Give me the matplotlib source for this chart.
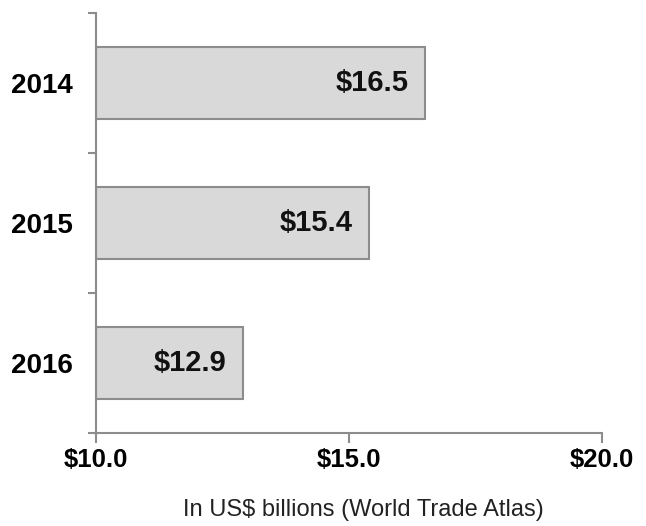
import matplotlib
matplotlib.use("Agg")
import matplotlib.pyplot as plt

# datos
anios = ["2014", "2015", "2016"]
valores = [16.5, 15.4, 12.9]
etiquetas = ["$16.5", "$15.4", "$12.9"]
xticks = [10, 15, 20]
xtick_labels = ["$10.0", "$15.0", "$20.0"]

plt.rcParams['font.family'] = ['Liberation Sans', 'DejaVu Sans']

gris = '#8c8c8c'

fig = plt.figure(figsize=(6.46, 5.26), dpi=100)
ax = fig.add_axes([96/646, 1 - 433/526, (602-96)/646, (433-13)/526])

pos = list(range(len(anios)))
ax.barh(pos, [v - 10 for v in valores], left=10, height=0.52,
        color='#d9d9d9', edgecolor=gris, linewidth=1.5)

for p, v, t in zip(pos, valores, etiquetas):
    ax.text(v - 0.32, p, t, ha='right', va='center',
            fontsize=21, fontweight='bold', color='#111111')

ax.set_xlim(10, 20)
ax.set_ylim(2.5, -0.5)

ax.set_xticks(xticks)
ax.set_xticklabels(xtick_labels, fontsize=18.5, fontweight='bold')
ax.tick_params(axis='x', length=7, width=1.5, color=gris, pad=4)

# marcas entre categorias, etiquetas al centro
ax.set_yticks([-0.5, 0.5, 1.5, 2.5])
ax.set_yticklabels([])
ax.set_yticks(pos, minor=True)
ax.set_yticklabels(anios, minor=True, fontsize=20, fontweight='bold')
ax.tick_params(axis='y', which='major', length=6, width=1.5, color=gris)
ax.tick_params(axis='y', which='minor', length=0, pad=17)

for lado in ['top', 'right']:
    ax.spines[lado].set_visible(False)
for lado in ['left', 'bottom']:
    ax.spines[lado].set_color(gris)
    ax.spines[lado].set_linewidth(1.5)

ax.set_xlabel("In US$ billions (World Trade Atlas)", fontsize=17, labelpad=19,
              color='#222222')
ax.xaxis.label.set_x(0.5 + 14/506)

plt.savefig("out.png", dpi=100)
